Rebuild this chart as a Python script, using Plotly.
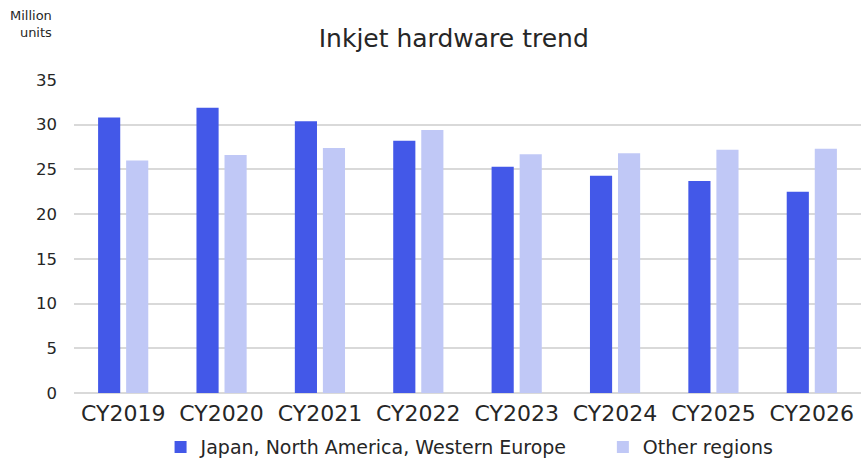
import plotly.graph_objects as go

years = ["CY2019", "CY2020", "CY2021", "CY2022", "CY2023", "CY2024", "CY2025", "CY2026"]
jp_na_we = [30.8, 31.9, 30.4, 28.2, 25.3, 24.3, 23.7, 22.5]
other_regions = [26.0, 26.6, 27.4, 29.4, 26.7, 26.8, 27.2, 27.3]
y_ticks = [0, 5, 10, 15, 20, 25, 30, 35]

FONT = "DejaVu Sans"
TEXT = "#262626"

fig = go.Figure()
fig.add_trace(go.Bar(
    x=years, y=jp_na_we, name="Japan, North America, Western Europe",
    marker=dict(color="#4358E8", line=dict(width=0)), legend="legend",
))
fig.add_trace(go.Bar(
    x=years, y=other_regions, name="Other regions",
    marker=dict(color="#C0C8F6", line=dict(width=0)), legend="legend2",
))

# legends sit in container coordinates so they do not shrink the plot area
legend_common = dict(orientation="h", yref="container", yanchor="middle", y=0.026,
                     font=dict(size=19, color=TEXT), itemwidth=30,
                     bgcolor="rgba(0,0,0,0)")

fig.update_layout(
    width=861, height=459,
    margin=dict(l=74, r=0, t=80, b=66),
    paper_bgcolor="white", plot_bgcolor="white",
    font=dict(family=FONT, color=TEXT),
    barmode="group", bargap=0.43, bargroupgap=0.21,
    title=dict(text="Inkjet hardware trend", x=0.527, xanchor="center",
               y=0.917, yanchor="middle", font=dict(size=25, color=TEXT)),
    xaxis=dict(tickfont=dict(size=22, color=TEXT), showgrid=False,
               showline=False, ticks="", ticklabelstandoff=5),
    yaxis=dict(range=[0, 35], tickvals=y_ticks, tickfont=dict(size=16.5, color=TEXT),
               showgrid=True, gridcolor="#D9D9D9", gridwidth=1.5,
               zeroline=True, zerolinecolor="#D9D9D9", zerolinewidth=1.5,
               ticklabelstandoff=16),
    legend=dict(legend_common, x=0.11, xanchor="left"),
    legend2=dict(legend_common, x=0.672, xanchor="left"),
    showlegend=True,
)

fig.add_annotation(
    text="Million<br>units", xref="paper", yref="paper",
    x=-0.025, y=1.235, xanchor="right", yanchor="top", align="right",
    showarrow=False, font=dict(size=13, color=TEXT),
)

fig.write_html("out.html")
